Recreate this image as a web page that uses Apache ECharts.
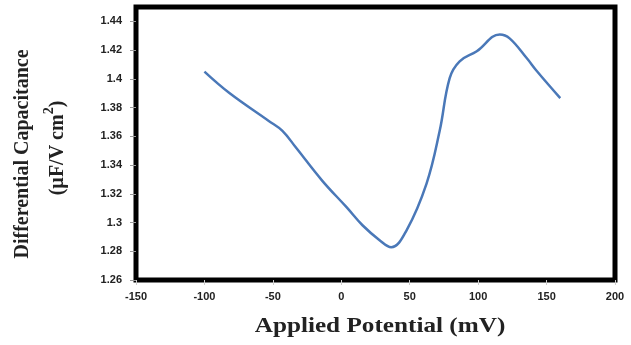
<!DOCTYPE html>
<html><head><meta charset="utf-8">
<script src="https://cdn.jsdelivr.net/npm/echarts@6/dist/echarts.min.js"></script>
<style>html,body{margin:0;padding:0;background:#fff}#c{width:631px;height:345px}</style>
</head><body><div id="c"></div>
<script>
const potential = [-100, -82, -53, -43, -33, -14, 4, 15.5, 28, 36.5, 47.7, 62.3, 71.9, 79.2, 86.5, 99, 115.8, 123, 135.6, 143, 160];
const capacitance = [1.405, 1.3903, 1.3707, 1.3638, 1.352, 1.3292, 1.3105, 1.2981, 1.2877, 1.2828, 1.2946, 1.3271, 1.3638, 1.4005, 1.4122, 1.4192, 1.4309, 1.4282, 1.4143, 1.4053, 1.3866];
const xTitle = 'Applied Potential (mV)';
const yTitle1 = 'Differential Capacitance';

const chart = echarts.init(document.getElementById('c'));
const tickFont = {fontFamily: 'Liberation Sans', fontWeight: 'bold', fontSize: 11, color: '#222'};
chart.setOption({
  animation: false,
  grid: {left: 136, right: 16, top: 7, bottom: 65, show: true, borderColor: '#000', borderWidth: 5, backgroundColor: '#fff'},
  xAxis: {
    type: 'value', min: -150, max: 200, interval: 50,
    axisLine: {show: false, onZero: false}, splitLine: {show: false},
    axisTick: {show: true, length: 5, lineStyle: {color: '#ccc'}},
    axisLabel: Object.assign({margin: 11}, tickFont)
  },
  yAxis: {
    type: 'value', min: 1.26, max: 1.45, interval: 0.02,
    axisLine: {show: false, onZero: false}, splitLine: {show: false},
    axisTick: {show: true, length: 6, lineStyle: {color: '#999'}},
    axisLabel: Object.assign({margin: 14, showMaxLabel: false, formatter: v => String(+v.toFixed(2))}, tickFont)
  },
  graphic: [
    {type: 'text', x: 380, y: 327, scaleX: 1.2, silent: true,
     style: {text: xTitle, font: 'bold 21px "Liberation Serif"', fill: '#222', align: 'center', verticalAlign: 'middle'}},
    {type: 'text', x: 23, y: 154, rotation: Math.PI / 2, silent: true,
     style: {text: yTitle1, font: 'bold 20px "Liberation Serif"', fill: '#222', align: 'center', verticalAlign: 'middle'}},
    {type: 'text', x: 55, y: 148, rotation: Math.PI / 2, silent: true,
     style: {text: '{a|(µF/V cm}{b|2}{a|)}', align: 'center', verticalAlign: 'middle',
       rich: {a: {font: 'bold 20px "Liberation Serif"', fill: '#222', lineHeight: 26, verticalAlign: 'bottom'},
              b: {font: 'bold 14px "Liberation Serif"', fill: '#222', lineHeight: 26, verticalAlign: 'top'}}}}
  ],
  series: [{
    type: 'line', smooth: 0.4, showSymbol: false,
    data: potential.map((p, i) => [p, capacitance[i]]),
    lineStyle: {color: '#4a78b8', width: 2.5}
  }]
});
</script></body></html>
